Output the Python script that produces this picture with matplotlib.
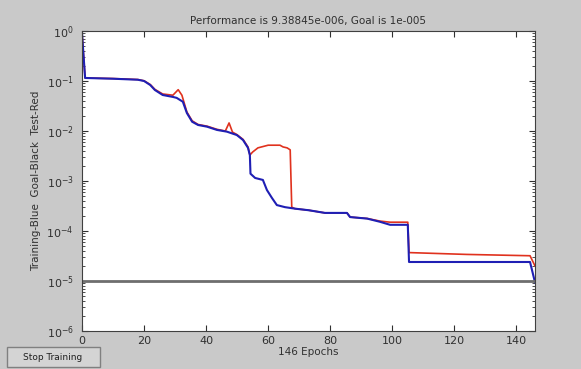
import numpy as np
import matplotlib
matplotlib.use('Agg')
import matplotlib.pyplot as plt
from matplotlib.patches import Rectangle

# training performance (blue)
train_epochs = [0, 1, 10, 18, 20, 22, 23.5, 26, 29.3, 30.5, 32.5, 33.8, 35.5, 37.4, 40.3,
                43.5, 46.7, 49.9, 51.9, 53.5, 54.1, 54.3, 55.8, 58.3, 59.6, 61.2, 62.8,
                65.4, 68.6, 73.1, 78.3, 85.4, 86.4, 91.9, 96, 99.3, 105, 105.4, 144.4, 146]
train_perf = [0.9, 0.115, 0.111, 0.106, 0.1, 0.083, 0.066, 0.0525, 0.048, 0.046, 0.0385,
              0.0229, 0.0153, 0.0132, 0.0122, 0.0105, 0.0097, 0.0083, 0.0066, 0.0046,
              0.0033, 0.0014, 0.00115, 0.00105, 0.00066, 0.00046, 0.00033, 0.0003,
              0.00028, 0.00026, 0.00023, 0.00023, 0.00019, 0.000177, 0.000153,
              0.000133, 0.000133, 2.4e-5, 2.4e-5, 9.39e-6]

# test performance (red)
test_epochs = [0, 1, 10, 18, 20, 22, 23.5, 26, 29.3, 31, 32.2, 33.8, 35.5, 37.4, 40.3,
               43.5, 46.2, 47.4, 48.5, 49.9, 51.9, 53.5, 54.1, 55, 56.7, 60, 63.8, 64.8,
               66.1, 67.1, 67.6, 68.6, 73.1, 78.3, 85.4, 86.4, 91.9, 96, 99.3, 105,
               105.4, 124, 144.4, 146]
test_perf = [0.9, 0.115, 0.112, 0.107, 0.101, 0.085, 0.068, 0.055, 0.052, 0.067, 0.052,
             0.024, 0.016, 0.0135, 0.0125, 0.0108, 0.0100, 0.0145, 0.0095, 0.0085,
             0.0068, 0.0048, 0.0033, 0.0038, 0.0046, 0.0052, 0.0052, 0.0048, 0.0046,
             0.0042, 0.0003, 0.00028, 0.00026, 0.00023, 0.00023, 0.00019, 0.000178,
             0.000158, 0.000150, 0.000150, 3.7e-5, 3.4e-5, 3.2e-5, 2.0e-5]

goal = 1e-5
n_epochs = 146
title = 'Performance is 9.38845e-006, Goal is 1e-005'

bg = '#c9c9c9'
fig = plt.figure(figsize=(5.81, 3.69), dpi=100, facecolor=bg)
ax = fig.add_axes([82/581, 38/369, 453/581, 300/369])
ax.set_facecolor('white')

ax.semilogy(test_epochs, test_perf, color='#e0321e', lw=1.2)
ax.semilogy(train_epochs, train_perf, color='#1f1fb4', lw=1.5)
ax.axhline(goal, color='#6e6e6e', lw=2.0)

ax.set_xlim(0, n_epochs)
ax.set_ylim(1e-6, 1e0)
ax.set_xticks(np.arange(0, 141, 20))
ax.set_yticks([1e0, 1e-1, 1e-2, 1e-3, 1e-4, 1e-5, 1e-6])
ax.tick_params(which='both', direction='in', top=True, right=True, labelsize=8,
               colors='#303030')
ax.tick_params(which='major', length=4)
ax.tick_params(which='minor', length=2)
ax.tick_params(axis='y', pad=6)
for s in ax.spines.values():
    s.set_color('#404040')

ax.set_title(title, fontsize=7.5, color='#303030', pad=5)
ax.set_xlabel('%d Epochs' % n_epochs, fontsize=7.5, color='#303030', labelpad=1)
ax.set_ylabel('Training-Blue  Goal-Black  Test-Red', fontsize=7.5, color='#303030')

# "Stop Training" button
fig.patches.append(Rectangle((7/581, 2/369), 93/581, 20/369, transform=fig.transFigure,
                             facecolor='#d4d4d4', edgecolor='#808080', lw=1))
fig.text(53/581, 12/369, 'Stop Training', fontsize=6.5, color='#202020',
         ha='center', va='center')

fig.savefig('out.png', dpi=100, facecolor=bg)
